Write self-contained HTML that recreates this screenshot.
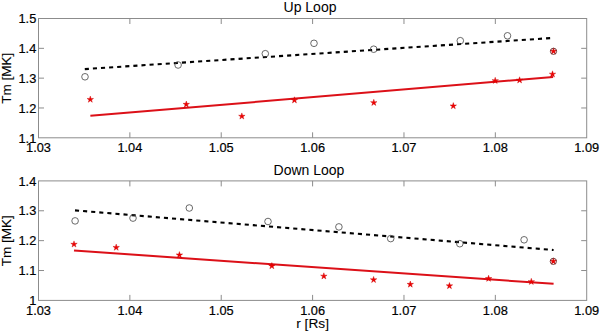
<!DOCTYPE html>
<html><head><meta charset="utf-8"><style>
html,body{margin:0;padding:0;background:#fff;}
svg{display:block;}
text{font-family:"Liberation Sans",sans-serif;fill:#000;stroke:#000;stroke-width:0.2px;}
.tk{font-size:12.8px;}
.tl{font-size:14px;stroke-width:0;}
.yl{font-size:13.5px;stroke-width:0.12px;}
.xl{font-size:13.7px;stroke-width:0.08px;}
</style></head><body>
<svg width="600" height="331" viewBox="0 0 600 331">
<rect width="600" height="331" fill="#fff"/>
<rect x="38.5" y="18.5" width="548.20" height="119.30" fill="none" stroke="#8c8c8c" stroke-width="1"/>
<line x1="129.87" y1="137.8" x2="129.87" y2="132.3" stroke="#8c8c8c" stroke-width="1"/>
<line x1="129.87" y1="18.5" x2="129.87" y2="24.0" stroke="#8c8c8c" stroke-width="1"/>
<line x1="221.23" y1="137.8" x2="221.23" y2="132.3" stroke="#8c8c8c" stroke-width="1"/>
<line x1="221.23" y1="18.5" x2="221.23" y2="24.0" stroke="#8c8c8c" stroke-width="1"/>
<line x1="312.60" y1="137.8" x2="312.60" y2="132.3" stroke="#8c8c8c" stroke-width="1"/>
<line x1="312.60" y1="18.5" x2="312.60" y2="24.0" stroke="#8c8c8c" stroke-width="1"/>
<line x1="403.97" y1="137.8" x2="403.97" y2="132.3" stroke="#8c8c8c" stroke-width="1"/>
<line x1="403.97" y1="18.5" x2="403.97" y2="24.0" stroke="#8c8c8c" stroke-width="1"/>
<line x1="495.33" y1="137.8" x2="495.33" y2="132.3" stroke="#8c8c8c" stroke-width="1"/>
<line x1="495.33" y1="18.5" x2="495.33" y2="24.0" stroke="#8c8c8c" stroke-width="1"/>
<line x1="38.5" y1="48.33" x2="44.0" y2="48.33" stroke="#8c8c8c" stroke-width="1"/>
<line x1="586.7" y1="48.33" x2="581.2" y2="48.33" stroke="#8c8c8c" stroke-width="1"/>
<line x1="38.5" y1="78.15" x2="44.0" y2="78.15" stroke="#8c8c8c" stroke-width="1"/>
<line x1="586.7" y1="78.15" x2="581.2" y2="78.15" stroke="#8c8c8c" stroke-width="1"/>
<line x1="38.5" y1="107.98" x2="44.0" y2="107.98" stroke="#8c8c8c" stroke-width="1"/>
<line x1="586.7" y1="107.98" x2="581.2" y2="107.98" stroke="#8c8c8c" stroke-width="1"/>
<text x="36.3" y="23.20" text-anchor="end" class="tk">1.5</text>
<text x="36.3" y="53.03" text-anchor="end" class="tk">1.4</text>
<text x="36.3" y="82.85" text-anchor="end" class="tk">1.3</text>
<text x="36.3" y="112.68" text-anchor="end" class="tk">1.2</text>
<text x="36.3" y="142.50" text-anchor="end" class="tk">1.1</text>
<text x="38.50" y="152.10" text-anchor="middle" class="tk">1.03</text>
<text x="129.87" y="152.10" text-anchor="middle" class="tk">1.04</text>
<text x="221.23" y="152.10" text-anchor="middle" class="tk">1.05</text>
<text x="312.60" y="152.10" text-anchor="middle" class="tk">1.06</text>
<text x="403.97" y="152.10" text-anchor="middle" class="tk">1.07</text>
<text x="495.33" y="152.10" text-anchor="middle" class="tk">1.08</text>
<text x="586.70" y="152.10" text-anchor="middle" class="tk">1.09</text>
<text x="310" y="11.5" text-anchor="middle" class="tl">Up Loop</text>
<text transform="translate(11.1,78.35) rotate(-90)" text-anchor="middle" class="yl">Tm [MK]</text>
<line x1="84.8" y1="69.1" x2="553.5" y2="37.9" stroke="#000" stroke-width="2.1" stroke-dasharray="4.1 4.01"/>
<line x1="90.35" y1="115.8" x2="553.1" y2="77" stroke="#dc1018" stroke-width="2"/>
<circle cx="85" cy="76.8" r="3.3" fill="none" stroke="#444" stroke-width="0.8"/>
<circle cx="178.1" cy="65" r="3.3" fill="none" stroke="#444" stroke-width="0.8"/>
<circle cx="265.3" cy="53.7" r="3.3" fill="none" stroke="#444" stroke-width="0.8"/>
<circle cx="314" cy="43.3" r="3.3" fill="none" stroke="#444" stroke-width="0.8"/>
<circle cx="373.7" cy="49.2" r="3.3" fill="none" stroke="#444" stroke-width="0.8"/>
<circle cx="460.3" cy="40.7" r="3.3" fill="none" stroke="#444" stroke-width="0.8"/>
<circle cx="507.5" cy="35.8" r="3.3" fill="none" stroke="#444" stroke-width="0.8"/>
<path d="M90.30,96.10 L91.06,98.45 L93.53,98.45 L91.54,99.90 L92.30,102.25 L90.30,100.80 L88.30,102.25 L89.06,99.90 L87.07,98.45 L89.54,98.45Z" fill="#f00000" stroke="#c80000" stroke-width="0.4"/>
<path d="M186.30,101.00 L187.06,103.35 L189.53,103.35 L187.54,104.80 L188.30,107.15 L186.30,105.70 L184.30,107.15 L185.06,104.80 L183.07,103.35 L185.54,103.35Z" fill="#f00000" stroke="#c80000" stroke-width="0.4"/>
<path d="M241.85,112.90 L242.61,115.25 L245.08,115.25 L243.09,116.70 L243.85,119.05 L241.85,117.60 L239.85,119.05 L240.61,116.70 L238.62,115.25 L241.09,115.25Z" fill="#f00000" stroke="#c80000" stroke-width="0.4"/>
<path d="M294.45,96.80 L295.21,99.15 L297.68,99.15 L295.69,100.60 L296.45,102.95 L294.45,101.50 L292.45,102.95 L293.21,100.60 L291.22,99.15 L293.69,99.15Z" fill="#f00000" stroke="#c80000" stroke-width="0.4"/>
<path d="M373.80,99.30 L374.56,101.65 L377.03,101.65 L375.04,103.10 L375.80,105.45 L373.80,104.00 L371.80,105.45 L372.56,103.10 L370.57,101.65 L373.04,101.65Z" fill="#f00000" stroke="#c80000" stroke-width="0.4"/>
<path d="M453.30,102.60 L454.06,104.95 L456.53,104.95 L454.54,106.40 L455.30,108.75 L453.30,107.30 L451.30,108.75 L452.06,106.40 L450.07,104.95 L452.54,104.95Z" fill="#f00000" stroke="#c80000" stroke-width="0.4"/>
<path d="M495.20,77.30 L495.96,79.65 L498.43,79.65 L496.44,81.10 L497.20,83.45 L495.20,82.00 L493.20,83.45 L493.96,81.10 L491.97,79.65 L494.44,79.65Z" fill="#f00000" stroke="#c80000" stroke-width="0.4"/>
<path d="M519.60,76.80 L520.36,79.15 L522.83,79.15 L520.84,80.60 L521.60,82.95 L519.60,81.50 L517.60,82.95 L518.36,80.60 L516.37,79.15 L518.84,79.15Z" fill="#f00000" stroke="#c80000" stroke-width="0.4"/>
<path d="M552.50,70.80 L553.26,73.15 L555.73,73.15 L553.74,74.60 L554.50,76.95 L552.50,75.50 L550.50,76.95 L551.26,74.60 L549.27,73.15 L551.74,73.15Z" fill="#f00000" stroke="#c80000" stroke-width="0.4"/>
<path d="M553.50,47.90 L554.26,50.25 L556.73,50.25 L554.74,51.70 L555.50,54.05 L553.50,52.60 L551.50,54.05 L552.26,51.70 L550.27,50.25 L552.74,50.25Z" fill="#f00000" stroke="#c80000" stroke-width="0.4"/>
<circle cx="553.5" cy="51.3" r="3.15" fill="none" stroke="#581212" stroke-width="0.8"/>
<rect x="38.5" y="180.9" width="548.20" height="119.50" fill="none" stroke="#8c8c8c" stroke-width="1"/>
<line x1="129.87" y1="300.4" x2="129.87" y2="294.9" stroke="#8c8c8c" stroke-width="1"/>
<line x1="129.87" y1="180.9" x2="129.87" y2="186.4" stroke="#8c8c8c" stroke-width="1"/>
<line x1="221.23" y1="300.4" x2="221.23" y2="294.9" stroke="#8c8c8c" stroke-width="1"/>
<line x1="221.23" y1="180.9" x2="221.23" y2="186.4" stroke="#8c8c8c" stroke-width="1"/>
<line x1="312.60" y1="300.4" x2="312.60" y2="294.9" stroke="#8c8c8c" stroke-width="1"/>
<line x1="312.60" y1="180.9" x2="312.60" y2="186.4" stroke="#8c8c8c" stroke-width="1"/>
<line x1="403.97" y1="300.4" x2="403.97" y2="294.9" stroke="#8c8c8c" stroke-width="1"/>
<line x1="403.97" y1="180.9" x2="403.97" y2="186.4" stroke="#8c8c8c" stroke-width="1"/>
<line x1="495.33" y1="300.4" x2="495.33" y2="294.9" stroke="#8c8c8c" stroke-width="1"/>
<line x1="495.33" y1="180.9" x2="495.33" y2="186.4" stroke="#8c8c8c" stroke-width="1"/>
<line x1="38.5" y1="210.78" x2="44.0" y2="210.78" stroke="#8c8c8c" stroke-width="1"/>
<line x1="586.7" y1="210.78" x2="581.2" y2="210.78" stroke="#8c8c8c" stroke-width="1"/>
<line x1="38.5" y1="240.65" x2="44.0" y2="240.65" stroke="#8c8c8c" stroke-width="1"/>
<line x1="586.7" y1="240.65" x2="581.2" y2="240.65" stroke="#8c8c8c" stroke-width="1"/>
<line x1="38.5" y1="270.52" x2="44.0" y2="270.52" stroke="#8c8c8c" stroke-width="1"/>
<line x1="586.7" y1="270.52" x2="581.2" y2="270.52" stroke="#8c8c8c" stroke-width="1"/>
<text x="36.3" y="185.60" text-anchor="end" class="tk">1.4</text>
<text x="36.3" y="215.47" text-anchor="end" class="tk">1.3</text>
<text x="36.3" y="245.35" text-anchor="end" class="tk">1.2</text>
<text x="36.3" y="275.22" text-anchor="end" class="tk">1.1</text>
<text x="36.3" y="305.10" text-anchor="end" class="tk">1</text>
<text x="38.50" y="314.70" text-anchor="middle" class="tk">1.03</text>
<text x="129.87" y="314.70" text-anchor="middle" class="tk">1.04</text>
<text x="221.23" y="314.70" text-anchor="middle" class="tk">1.05</text>
<text x="312.60" y="314.70" text-anchor="middle" class="tk">1.06</text>
<text x="403.97" y="314.70" text-anchor="middle" class="tk">1.07</text>
<text x="495.33" y="314.70" text-anchor="middle" class="tk">1.08</text>
<text x="586.70" y="314.70" text-anchor="middle" class="tk">1.09</text>
<text x="309" y="175.3" text-anchor="middle" class="tl">Down Loop</text>
<text transform="translate(11.1,240.85) rotate(-90)" text-anchor="middle" class="yl">Tm [MK]</text>
<line x1="75" y1="210.4" x2="553.6" y2="250" stroke="#000" stroke-width="2.1" stroke-dasharray="4.1 4.01"/>
<line x1="74" y1="250.5" x2="553.6" y2="283.8" stroke="#dc1018" stroke-width="2"/>
<circle cx="75.1" cy="220.9" r="3.3" fill="none" stroke="#444" stroke-width="0.8"/>
<circle cx="133" cy="218.1" r="3.3" fill="none" stroke="#444" stroke-width="0.8"/>
<circle cx="189.3" cy="208" r="3.3" fill="none" stroke="#444" stroke-width="0.8"/>
<circle cx="268" cy="221.5" r="3.3" fill="none" stroke="#444" stroke-width="0.8"/>
<circle cx="338.9" cy="226.9" r="3.3" fill="none" stroke="#444" stroke-width="0.8"/>
<circle cx="390.7" cy="238.6" r="3.3" fill="none" stroke="#444" stroke-width="0.8"/>
<circle cx="459.8" cy="243.7" r="3.3" fill="none" stroke="#444" stroke-width="0.8"/>
<circle cx="524.1" cy="239.8" r="3.3" fill="none" stroke="#444" stroke-width="0.8"/>
<path d="M74.00,240.90 L74.76,243.25 L77.23,243.25 L75.24,244.70 L76.00,247.05 L74.00,245.60 L72.00,247.05 L72.76,244.70 L70.77,243.25 L73.24,243.25Z" fill="#f00000" stroke="#c80000" stroke-width="0.4"/>
<path d="M116.20,244.10 L116.96,246.45 L119.43,246.45 L117.44,247.90 L118.20,250.25 L116.20,248.80 L114.20,250.25 L114.96,247.90 L112.97,246.45 L115.44,246.45Z" fill="#f00000" stroke="#c80000" stroke-width="0.4"/>
<path d="M179.40,251.60 L180.16,253.95 L182.63,253.95 L180.64,255.40 L181.40,257.75 L179.40,256.30 L177.40,257.75 L178.16,255.40 L176.17,253.95 L178.64,253.95Z" fill="#f00000" stroke="#c80000" stroke-width="0.4"/>
<path d="M271.85,262.60 L272.61,264.95 L275.08,264.95 L273.09,266.40 L273.85,268.75 L271.85,267.30 L269.85,268.75 L270.61,266.40 L268.62,264.95 L271.09,264.95Z" fill="#f00000" stroke="#c80000" stroke-width="0.4"/>
<path d="M323.85,272.80 L324.61,275.15 L327.08,275.15 L325.09,276.60 L325.85,278.95 L323.85,277.50 L321.85,278.95 L322.61,276.60 L320.62,275.15 L323.09,275.15Z" fill="#f00000" stroke="#c80000" stroke-width="0.4"/>
<path d="M373.60,276.40 L374.36,278.75 L376.83,278.75 L374.84,280.20 L375.60,282.55 L373.60,281.10 L371.60,282.55 L372.36,280.20 L370.37,278.75 L372.84,278.75Z" fill="#f00000" stroke="#c80000" stroke-width="0.4"/>
<path d="M410.30,281.00 L411.06,283.35 L413.53,283.35 L411.54,284.80 L412.30,287.15 L410.30,285.70 L408.30,287.15 L409.06,284.80 L407.07,283.35 L409.54,283.35Z" fill="#f00000" stroke="#c80000" stroke-width="0.4"/>
<path d="M449.45,282.50 L450.21,284.85 L452.68,284.85 L450.69,286.30 L451.45,288.65 L449.45,287.20 L447.45,288.65 L448.21,286.30 L446.22,284.85 L448.69,284.85Z" fill="#f00000" stroke="#c80000" stroke-width="0.4"/>
<path d="M488.60,275.20 L489.36,277.55 L491.83,277.55 L489.84,279.00 L490.60,281.35 L488.60,279.90 L486.60,281.35 L487.36,279.00 L485.37,277.55 L487.84,277.55Z" fill="#f00000" stroke="#c80000" stroke-width="0.4"/>
<path d="M531.30,278.30 L532.06,280.65 L534.53,280.65 L532.54,282.10 L533.30,284.45 L531.30,283.00 L529.30,284.45 L530.06,282.10 L528.07,280.65 L530.54,280.65Z" fill="#f00000" stroke="#c80000" stroke-width="0.4"/>
<path d="M553.35,257.95 L554.11,260.30 L556.58,260.30 L554.59,261.75 L555.35,264.10 L553.35,262.65 L551.35,264.10 L552.11,261.75 L550.12,260.30 L552.59,260.30Z" fill="#f00000" stroke="#c80000" stroke-width="0.4"/>
<circle cx="553.35" cy="261.35" r="3.15" fill="none" stroke="#581212" stroke-width="0.8"/>
<text x="312.6" y="328.2" text-anchor="middle" class="xl">r [Rs]</text>
</svg>
</body></html>
